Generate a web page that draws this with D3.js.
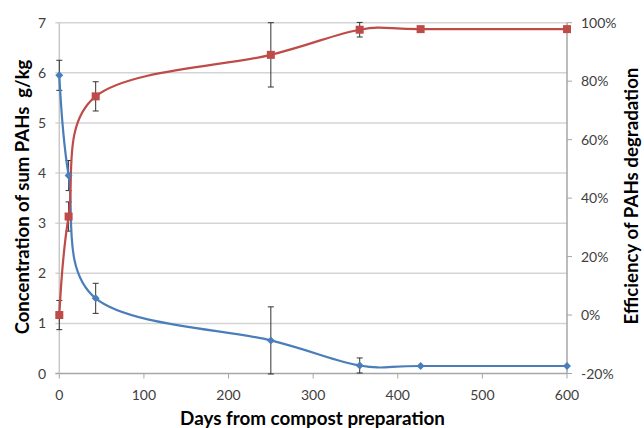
<!DOCTYPE html>
<html>
<head>
<meta charset="utf-8">
<script src="https://cdn.jsdelivr.net/npm/d3@7"></script>
<style>
  body { margin: 0; background: #fff; }
  text { font-family: Lato, "Open Sans", sans-serif; white-space: pre; }
</style>
</head>
<body>
<script>
// chart size
var width = 644,
    height = 428;

// days of sampling
var days = [0, 11, 43, 250, 355, 427, 600];
// concentration of sum PAHs, g/kg (left axis)
var conc = [5.95, 3.95, 1.5, 0.66, 0.16, 0.15, 0.15];
var concErr = [0.3, 0.3, 0.3, 0.67, 0.15, 0, 0];
// efficiency of degradation, % (right axis)
var eff = [0, 33.7, 74.8, 89, 97.6, 97.8, 97.8];
var effErr = [5, 5, 5, 11, 2.5, 0, 0];

var xTicks = [0, 100, 200, 300, 400, 500, 600];
var leftTicks = [0, 1, 2, 3, 4, 5, 6, 7];
var rightTicks = [-20, 0, 20, 40, 60, 80, 100];

var svg = d3.select("body").append("svg")
    .attr("width", width)
    .attr("height", height);

var x = d3.scaleLinear().domain([0, 600]).range([59.3, 567]);
var y = d3.scaleLinear().domain([0, 7]).range([373.5, 22.7]);
var y2 = d3.scaleLinear().domain([-20, 100]).range([373.5, 22.7]);

// gridlines
svg.append("g").selectAll("line")
  .data(leftTicks)
  .enter().append("line")
    .attr("x1", x(0) - 4)
    .attr("x2", x(600))
    .attr("y1", function(d) { return y(d); })
    .attr("y2", function(d) { return y(d); })
    .attr("stroke", function(d) { return d == 0 ? "#a6a6a6" : "#d4d4d4"; })
    .attr("stroke-width", 1.5);

// axis lines
svg.append("line")
    .attr("x1", x(0)).attr("x2", x(0))
    .attr("y1", y(7)).attr("y2", y(0))
    .attr("stroke", "#c8c8c8").attr("stroke-width", 1.5);
svg.append("line")
    .attr("x1", x(600)).attr("x2", x(600))
    .attr("y1", y(7)).attr("y2", y(0))
    .attr("stroke", "#a6a6a6").attr("stroke-width", 1.5);

// bottom ticks
svg.append("g").selectAll("line")
  .data(xTicks)
  .enter().append("line")
    .attr("x1", function(d) { return x(d); })
    .attr("x2", function(d) { return x(d); })
    .attr("y1", y(0))
    .attr("y2", y(0) + 5)
    .attr("stroke", "#a6a6a6");

// right ticks
svg.append("g").selectAll("line")
  .data(rightTicks)
  .enter().append("line")
    .attr("x1", x(600))
    .attr("x2", x(600) + 5)
    .attr("y1", function(d) { return y2(d); })
    .attr("y2", function(d) { return y2(d); })
    .attr("stroke", "#a6a6a6");

// tick labels
svg.append("g").selectAll("text")
  .data(leftTicks)
  .enter().append("text")
    .attr("x", 46)
    .attr("y", function(d) { return y(d) + 5; })
    .attr("text-anchor", "end")
    .attr("font-size", 14)
    .attr("fill", "#404040")
    .text(function(d) { return d; });

svg.append("g").selectAll("text")
  .data(xTicks)
  .enter().append("text")
    .attr("x", function(d) { return x(d); })
    .attr("y", 400)
    .attr("text-anchor", "middle")
    .attr("font-size", 14)
    .attr("fill", "#404040")
    .text(function(d) { return d; });

svg.append("g").selectAll("text")
  .data(rightTicks)
  .enter().append("text")
    .attr("x", 581)
    .attr("y", function(d) { return y2(d) + 5; })
    .attr("text-anchor", "start")
    .attr("font-size", 14)
    .attr("fill", "#404040")
    .text(function(d) { return d + "%"; });

// axis titles, font size fitted to the length they have in the picture
function title(txt, transform, len) {
  var t = svg.append("text")
      .attr("transform", transform)
      .attr("text-anchor", "middle")
      .attr("font-size", 18)
      .attr("font-weight", "bold")
      .attr("fill", "#000")
      .text(txt);
  var w = t.node().getComputedTextLength();
  t.attr("font-size", 18 * len / w);
}
title("Concentration of sum PAHs  g/kg", "translate(29,197) rotate(-90)", 275);
title("Days from compost preparation", "translate(312.5,425)", 265);
title("Efficiency of PAHs degradation", "translate(638,196) rotate(-90)", 257);

// series
var blue = "#4a7ebb", red = "#be4b48";

var concData = days.map(function(d, i) { return {d: d, v: conc[i], e: concErr[i]}; });
var effData = days.map(function(d, i) { return {d: d, v: eff[i], e: effErr[i]}; });

var line = d3.line().curve(d3.curveCardinal.tension(0));

// error bars
function errorBars(data, scale) {
  var g = svg.append("g").attr("stroke", "#333").attr("stroke-width", 1);
  data.filter(function(p) { return p.e > 0; }).forEach(function(p) {
    var cx = x(p.d), top = scale(p.v + p.e), bot = scale(p.v - p.e);
    g.append("line").attr("x1", cx).attr("x2", cx).attr("y1", top).attr("y2", bot);
    g.append("line").attr("x1", cx - 3).attr("x2", cx + 3).attr("y1", top).attr("y2", top);
    g.append("line").attr("x1", cx - 3).attr("x2", cx + 3).attr("y1", bot).attr("y2", bot);
  });
}
errorBars(concData, y);
errorBars(effData, y2);

svg.append("path")
    .attr("d", line(concData.map(function(p) { return [x(p.d), y(p.v)]; })))
    .attr("fill", "none")
    .attr("stroke", blue)
    .attr("stroke-width", 2.2);

svg.append("path")
    .attr("d", line(effData.map(function(p) { return [x(p.d), y2(p.v)]; })))
    .attr("fill", "none")
    .attr("stroke", red)
    .attr("stroke-width", 2.2);

// markers
svg.append("g").selectAll("path")
  .data(concData)
  .enter().append("path")
    .attr("transform", function(p) { return "translate(" + x(p.d) + "," + y(p.v) + ")"; })
    .attr("d", d3.symbol(d3.symbolDiamond2, 40))
    .attr("fill", blue);

svg.append("g").selectAll("rect")
  .data(effData)
  .enter().append("rect")
    .attr("x", function(p) { return x(p.d) - 4; })
    .attr("y", function(p) { return y2(p.v) - 4; })
    .attr("width", 8)
    .attr("height", 8)
    .attr("fill", red);
</script>
</body>
</html>
